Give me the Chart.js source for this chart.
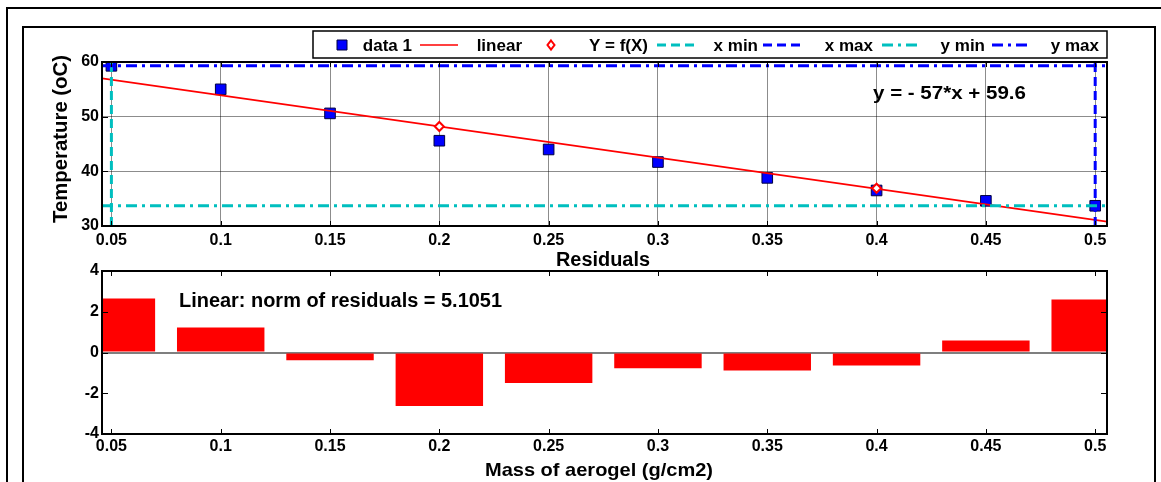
<!DOCTYPE html>
<html>
<head>
<meta charset="utf-8">
<script src="https://cdn.jsdelivr.net/npm/chart.js@4/dist/chart.umd.min.js"></script>
<style>
body{margin:0;background:#fff;}
#wrap{position:relative;width:1161px;height:482px;overflow:hidden;background:#fff;}
.frame{position:absolute;border:2px solid #000;}
canvas{position:absolute;left:0;}
</style>
</head>
<body>
<div id="wrap">
<div class="frame" style="left:6px;top:7px;width:1200px;height:600px;"></div>
<div class="frame" style="left:22px;top:26px;width:1130px;height:600px;"></div>
<canvas id="fitChart" width="1161" height="245" style="top:0"></canvas>
<canvas id="resChart" width="1161" height="237" style="top:245px"></canvas>
</div>
<script>
// values
const massX=[0.05,0.1,0.15,0.2,0.25,0.3,0.35,0.4,0.45,0.5];
const massLabels=["0.05","0.1","0.15","0.2","0.25","0.3","0.35","0.4","0.45","0.5"];
const temperature=[59.3,55.0,50.6,45.6,44.0,41.7,38.8,36.5,34.6,33.7];
const residuals=[2.65,1.23,-0.38,-2.63,-1.50,-0.77,-0.88,-0.64,0.59,2.60];
const fitX=[0.0457,0.5054];
const fitY=[57.0,30.8];
const evalX=[0.2,0.4];
const evalY=[48.2,36.9];
const xLimits=[0.0457,0.5054];
const tempLimits=[30,60];
const tempTicks=[30,40,50,60];
const resLimits=[-4,4];
const resTicks=[-4,-2,0,2,4];
const statX=[0.05,0.5];   // x min, x max
const statY=[33.7,59.3];  // y min, y max

const FONT='"Liberation Sans", Arial, sans-serif';
const CYAN='#00bfbf';
const BLUE='#0000ff';
const RED='#ff0000';

function pts(xs,ys){
return xs.map((x,i)=>({x:x,y:ys[i]}));
}

function fitText(ctx,str,x,y,size,w,align){
ctx.save();
ctx.font='bold '+size+'px '+FONT;
ctx.fillStyle='#000';
const m=ctx.measureText(str).width;
ctx.translate(x,y);
ctx.scale(w/m,1);
ctx.textAlign=align||'left';
ctx.textBaseline='alphabetic';
ctx.fillText(str,0,0);
ctx.restore();
}

function setTicks(values){
return function(scale){
scale.ticks=values.map(v=>({value:v}));
};
}

// axes box and inward ticks like the original
const boxPlugin={
id:'box',
afterDraw(chart){
const ctx=chart.ctx;
const a=chart.chartArea;
ctx.save();
ctx.strokeStyle='#000';
ctx.lineWidth=1;
chart.scales.x.ticks.forEach(t=>{
const px=Math.round(chart.scales.x.getPixelForValue(t.value))+0.5;
ctx.beginPath();
ctx.moveTo(px,a.bottom);ctx.lineTo(px,a.bottom-5);
ctx.moveTo(px,a.top);ctx.lineTo(px,a.top+5);
ctx.stroke();
});
chart.scales.y.ticks.forEach(t=>{
const py=Math.round(chart.scales.y.getPixelForValue(t.value))+0.5;
ctx.beginPath();
ctx.moveTo(a.left,py);ctx.lineTo(a.left+6,py);
ctx.moveTo(a.right,py);ctx.lineTo(a.right-6,py);
ctx.stroke();
});
ctx.lineWidth=2;
ctx.strokeRect(a.left,a.top,a.right-a.left,a.bottom-a.top);
ctx.restore();
}
};

const topText={
id:'topText',
afterDraw(chart){
const ctx=chart.ctx;
ctx.save();
ctx.translate(67,139);
ctx.rotate(-Math.PI/2);
fitText(ctx,'Temperature (oC)',0,0,20,168,'center');
ctx.restore();
fitText(ctx,'y = - 57*x + 59.6',873,99,19,153,'left');

// legend
ctx.save();
ctx.fillStyle='#fff';
ctx.fillRect(313,31,794,27);
ctx.strokeStyle='#000';
ctx.lineWidth=1.5;
ctx.strokeRect(313,31,794,27);
const ly=45;
const ds=chart.data.datasets;
const samples=[[342],[420,458],[551],[657,697],[763,805],[882,920],[992,1030]];
const ends=[412,522,648,758,873,985,1099];
ds.forEach((d,i)=>{
const s=samples[i];
if(s.length===1){
ctx.beginPath();
if(d.pointStyle==='rect'){
ctx.rect(s[0]-5,ly-5,10,10);
}else{
ctx.moveTo(s[0],ly-4.5);ctx.lineTo(s[0]+3.5,ly);ctx.lineTo(s[0],ly+4.5);ctx.lineTo(s[0]-3.5,ly);ctx.closePath();
}
ctx.fillStyle=d.backgroundColor;
ctx.fill();
ctx.strokeStyle=d.borderColor;
ctx.lineWidth=d.pointStyle==='rect'?1:2;
ctx.setLineDash([]);
ctx.stroke();
}else{
ctx.beginPath();
ctx.strokeStyle=d.borderColor;
ctx.lineWidth=d.borderWidth;
ctx.setLineDash(d.borderDash||[]);
ctx.moveTo(s[0],ly);ctx.lineTo(s[1],ly);
ctx.stroke();
}
ctx.setLineDash([]);
ctx.font='bold 17px '+FONT;
ctx.fillStyle='#000';
ctx.textAlign='right';
ctx.textBaseline='middle';
ctx.fillText(d.label,ends[i],ly+1);
});
ctx.restore();
}
};

const bottomText={
id:'bottomText',
afterDraw(chart){
const ctx=chart.ctx;
fitText(ctx,'Residuals',603,21,20,94,'center');
fitText(ctx,'Linear: norm of residuals = 5.1051',179,62,20,323,'left');
fitText(ctx,'Mass of aerogel (g/cm2)',599,231,19,228,'center');
}
};

const tickFont={family:FONT,size:16,weight:'bold'};

new Chart(document.getElementById('fitChart'),{
type:'scatter',
data:{
datasets:[
{label:'data 1',data:pts(massX,temperature),pointStyle:'rect',pointRadius:7.5,pointHoverRadius:7.5,
backgroundColor:BLUE,borderColor:'#000040',borderWidth:1,order:7},
{label:'linear',data:pts(fitX,fitY),showLine:true,pointRadius:0,borderColor:RED,backgroundColor:RED,borderWidth:1.6,order:6},
{label:'Y = f(X)',data:pts(evalX,evalY),pointStyle:'rectRot',pointRadius:4.5,
backgroundColor:'#fff',borderColor:RED,borderWidth:2,order:5},
{label:'x min',data:[{x:statX[0],y:tempLimits[0]},{x:statX[0],y:tempLimits[1]}],showLine:true,pointRadius:0,
borderColor:CYAN,backgroundColor:CYAN,borderWidth:3,borderDash:[9,5],order:4},
{label:'x max',data:[{x:statX[1],y:tempLimits[0]},{x:statX[1],y:tempLimits[1]}],showLine:true,pointRadius:0,
borderColor:BLUE,backgroundColor:BLUE,borderWidth:3,borderDash:[9,5],order:3},
{label:'y min',data:[{x:xLimits[0],y:statY[0]},{x:xLimits[1],y:statY[0]}],showLine:true,pointRadius:0,
borderColor:CYAN,backgroundColor:CYAN,borderWidth:3,borderDash:[11,5,3,5],order:2},
{label:'y max',data:[{x:xLimits[0],y:statY[1]},{x:xLimits[1],y:statY[1]}],showLine:true,pointRadius:0,
borderColor:BLUE,backgroundColor:BLUE,borderWidth:3,borderDash:[11,5,3,5],order:1}
]
},
options:{
responsive:false,
animation:false,
layout:{padding:{left:0,right:54,top:62,bottom:0}},
plugins:{legend:{display:false},tooltip:{enabled:false}},
scales:{
x:{type:'linear',min:xLimits[0],max:xLimits[1],
afterBuildTicks:setTicks(massX),
afterFit(s){s.height=19;},
grid:{color:'rgba(0,0,0,0.45)',lineWidth:1,drawTicks:false},
border:{color:'#000',width:2},
ticks:{font:tickFont,color:'#000',padding:5,maxRotation:0,autoSkip:false,
callback:(v,i)=>massLabels[i]}},
y:{min:tempLimits[0],max:tempLimits[1],
afterBuildTicks:setTicks(tempTicks),
afterFit(s){s.width=102;},
grid:{color:'rgba(0,0,0,0.45)',lineWidth:1,drawTicks:false},
border:{color:'#000',width:2},
ticks:{font:tickFont,color:'#000',padding:3}}
}
},
plugins:[boxPlugin,topText]
});

new Chart(document.getElementById('resChart'),{
type:'bar',
data:{
datasets:[
{label:'residuals',data:pts(massX,residuals),backgroundColor:RED,borderWidth:0,
barPercentage:0.8,categoryPercentage:1}
]
},
options:{
responsive:false,
animation:false,
layout:{padding:{left:0,right:54,top:26,bottom:0}},
plugins:{legend:{display:false},tooltip:{enabled:false}},
scales:{
x:{type:'linear',offset:false,min:xLimits[0],max:xLimits[1],
afterBuildTicks:setTicks(massX),
afterFit(s){s.height=48;},
grid:{display:false,drawTicks:false},
border:{color:'#000',width:2},
ticks:{font:tickFont,color:'#000',padding:3,maxRotation:0,autoSkip:false,
callback:(v,i)=>massLabels[i]}},
y:{min:resLimits[0],max:resLimits[1],
afterBuildTicks:setTicks(resTicks),
afterFit(s){s.width=102;},
grid:{drawTicks:false,lineWidth:2,
color:c=>c.tick&&c.tick.value===0?'#7f7f7f':'rgba(0,0,0,0)'},
border:{color:'#000',width:2},
ticks:{font:tickFont,color:'#000',padding:3}}
}
},
plugins:[boxPlugin,bottomText]
});
</script>
</body>
</html>
